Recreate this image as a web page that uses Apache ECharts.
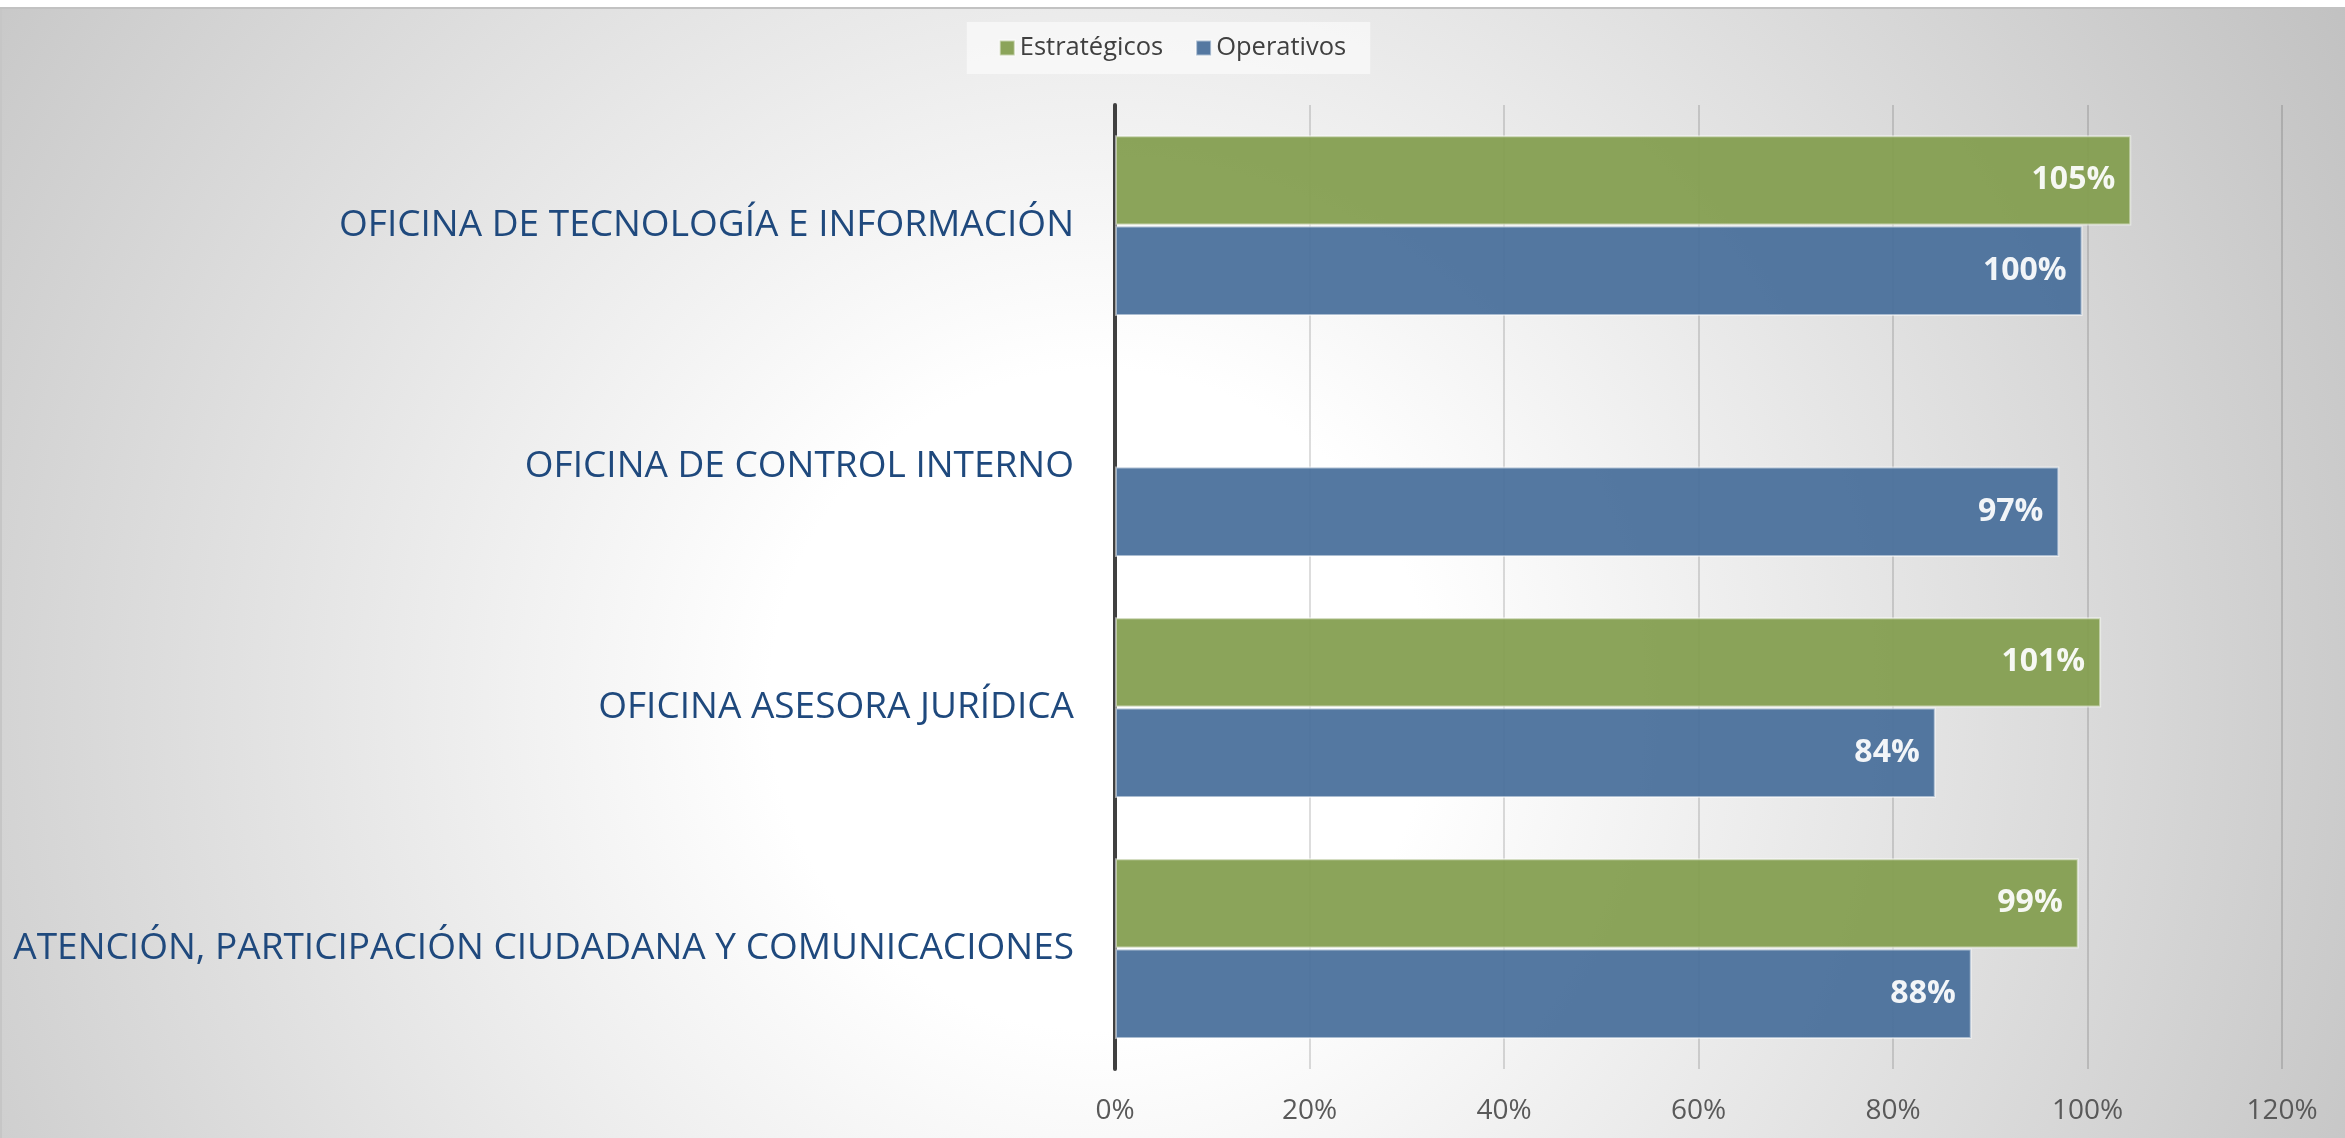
<!DOCTYPE html>
<html>
<head>
<meta charset="utf-8">
<script src="https://cdn.jsdelivr.net/npm/echarts@6/dist/echarts.min.js"></script>
<style>
  html, body { margin: 0; padding: 0; background: #fff; }
  #chart {
    width: 2345px;
    height: 1138px;
    background:
      linear-gradient(#fff 0 7px, #c2c2c2 7px 9px, transparent 9px),
      linear-gradient(to right, #c6c6c6 0 2px, transparent 2px),
      radial-gradient(circle at 1100px 700px, #ffffff 0px, #ffffff 330px, #c0c0c0 1450px);
  }
</style>
</head>
<body>
<div id="chart"></div>
<script>
// categories listed top to bottom (yAxis is inverted)
const categories = [
  'OFICINA DE TECNOLOGÍA E INFORMACIÓN',
  'OFICINA DE CONTROL INTERNO',
  'OFICINA ASESORA JURÍDICA',
  'ATENCIÓN, PARTICIPACIÓN CIUDADANA Y COMUNICACIONES'
]
const estrategicos = [1.045, null, 1.014, 0.991]
const operativos = [0.995, 0.971, 0.844, 0.881]
const seriesNames = ['Estratégicos', 'Operativos']
const xTicks = [0, 0.2, 0.4, 0.6, 0.8, 1.0, 1.2]

const FONT = '"Open Sans", "Noto Sans", sans-serif'

const barLabel = {
  show: true,
  position: 'insideRight',
  distance: 16,
  color: '#fff',
  fontFamily: FONT,
  fontWeight: 'bold',
  fontSize: 32,
  formatter: p => Math.round(p.value * 100) + '%'
}

const chart = echarts.init(document.getElementById('chart'))
chart.setOption({
  backgroundColor: 'transparent',
  animation: false,
  legend: {
    top: 22,
    left: 'center',
    backgroundColor: 'rgba(255,255,255,0.55)',
    padding: [13, 24, 13, 32],
    itemWidth: 15,
    itemHeight: 15,
    itemGap: 32,
    icon: 'rect',
    textStyle: { fontFamily: FONT, fontSize: 25.5, color: '#404040' },
    data: seriesNames
  },
  grid: { left: 1115, right: 63, top: 105, bottom: 69 },
  xAxis: {
    type: 'value',
    min: xTicks[0],
    max: xTicks[xTicks.length - 1],
    interval: 0.2,
    axisLine: { show: false },
    axisTick: { show: false },
    splitLine: { lineStyle: { color: 'rgba(0,0,0,0.18)', width: 1.5 } },
    axisLabel: {
      margin: 28,
      fontFamily: FONT,
      fontSize: 28,
      color: '#595959',
      formatter: v => Math.round(v * 100) + '%'
    }
  },
  yAxis: {
    type: 'category',
    inverse: true,
    data: categories,
    axisTick: { show: false },
    axisLine: { lineStyle: { color: '#404040', width: 4 } },
    axisLabel: {
      margin: 41,
      fontFamily: FONT,
      fontSize: 37,
      color: '#1F497D'
    }
  },
  series: [
    {
      name: seriesNames[0],
      type: 'bar',
      data: estrategicos,
      barGap: '0%',
      barCategoryGap: '25%',
      itemStyle: { color: '#829d4e', opacity: 0.93, borderColor: 'rgba(255,255,255,0.55)', borderWidth: 2 },
      label: barLabel
    },
    {
      name: seriesNames[1],
      type: 'bar',
      data: operativos,
      barGap: '0%',
      barCategoryGap: '25%',
      itemStyle: { color: '#476e9a', opacity: 0.93, borderColor: 'rgba(255,255,255,0.55)', borderWidth: 2 },
      label: barLabel
    }
  ]
})
</script>
</body>
</html>
